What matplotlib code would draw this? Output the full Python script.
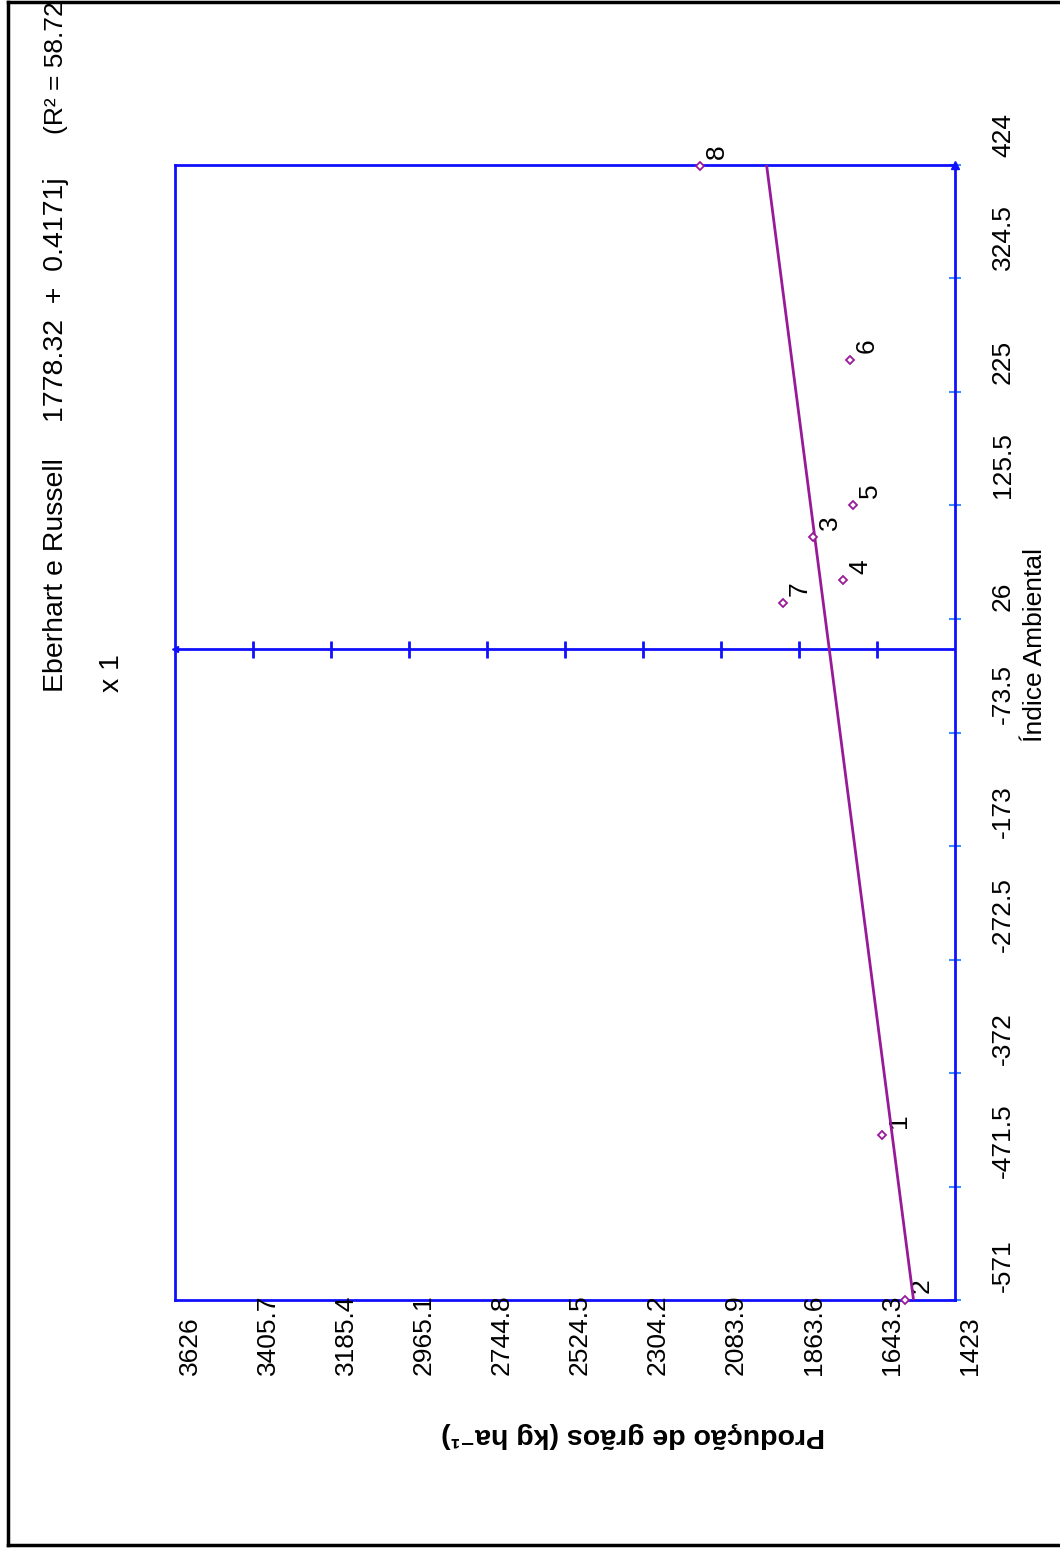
import matplotlib.pyplot as plt
import numpy as np

plt.rcParams['font.family'] = ['Liberation Sans', 'DejaVu Sans']
plt.rcParams['font.size'] = 19

# dados (genotipo, producao, indice ambiental)
genotipos = ['1', '2', '3', '4', '5', '6', '7', '8']
producao = [1629, 1564, 1824, 1739, 1711, 1720, 1909, 2143]
indice = [-426, -571, 98, 60, 126, 253, 40, 423]
b0, b1 = 1778.32, 0.4171

prod_ticks = [3626, 3405.7, 3185.4, 2965.1, 2744.8, 2524.5, 2304.2, 2083.9, 1863.6, 1643.3, 1423]
idx_ticks = [-571, -471.5, -372, -272.5, -173, -73.5, 26, 125.5, 225, 324.5, 424]

FrameBlue = '#1010ff'
TickBlue = '#3a8cff'
Purple = '#991a99'
px = 0.72  # pontos por pixel (dpi 100)

fig = plt.figure(figsize=(10.6, 15.49), dpi=100)
W, H = 1060, 1549
ax = fig.add_axes([175 / W, 1 - 1300 / H, 780 / W, 1135 / H])
ax.set_xlim(prod_ticks[0], prod_ticks[-1])
ax.set_ylim(idx_ticks[0], idx_ticks[-1])

for s in ax.spines.values():
    s.set_color(FrameBlue)
    s.set_linewidth(2)

# eixo em j = 0
ax.axhline(0, color=FrameBlue, lw=2, zorder=2)
ax.plot(prod_ticks[1:-1], np.zeros(len(prod_ticks) - 2), ls='none', marker='|',
        ms=17 * px, mew=2, color=FrameBlue, zorder=3)
ax.plot([prod_ticks[0]], [0], ls='none', marker='<', ms=5, color=FrameBlue, clip_on=False)
ax.plot([prod_ticks[-1]], [idx_ticks[-1]], ls='none', marker='^', ms=6, color=FrameBlue, clip_on=False)

# ticks do eixo do indice (lado direito)
ax.set_xticks([])
ax.yaxis.tick_right()
ax.set_yticks(idx_ticks)
ax.set_yticklabels([])
ax.tick_params(axis='y', direction='inout', length=12 * px, width=1.5, color=TickBlue)

for t in prod_ticks:
    ax.annotate(f'{t:g}', xy=(t, 0), xycoords=ax.get_xaxis_transform(),
                xytext=(15 * px, -75 * px), textcoords='offset points',
                rotation=90, ha='center', va='bottom', annotation_clip=False)
for t in idx_ticks:
    ax.annotate(f'{t:g}', xy=(1, t), xycoords=ax.get_yaxis_transform(),
                xytext=(48 * px, 8 * px), textcoords='offset points',
                rotation=90, ha='center', va='bottom', annotation_clip=False)

# reta de regressao
jj = np.array([idx_ticks[0], idx_ticks[-1]])
ax.plot(b0 + b1 * jj, jj, color=Purple, lw=2, zorder=4)

# pontos
ax.plot(producao, indice, ls='none', marker='D', ms=4, mfc='white', mec=Purple,
        mew=1.3, zorder=5, clip_on=False)
for g, x, y in zip(genotipos, producao, indice):
    ax.annotate(g, xy=(x, y), xytext=(17 * px, 14 * px), textcoords='offset points',
                rotation=90, ha='center', va='center', annotation_clip=False)

# textos
fig.text(1035 / W, 1 - 645 / H, 'Índice Ambiental', rotation=90, ha='center', va='center')
fig.text(633 / W, 1 - 1435 / H, 'Produção de grãos (kg ha⁻¹)', rotation=180,
         ha='center', va='center', fontweight='bold', fontsize=20.5)
fig.text(56 / W, 1 - 692 / H, 'Eberhart e Russell', rotation=90, ha='center', va='bottom', fontsize=20.5)
fig.text(56 / W, 1 - 422 / H, '1778.32  +  0.4171j', rotation=90, ha='center', va='bottom', fontsize=20.5)
fig.text(56 / W, 1 - 134 / H, '(R² = 58.72', rotation=90, ha='center', va='bottom', fontsize=19)
fig.text(112 / W, 1 - 692 / H, 'x 1', rotation=90, ha='center', va='bottom', fontsize=20.5)

# moldura externa
fig.add_artist(plt.Line2D([8 / W, 8 / W], [1 - 2 / H, 1 - 1545 / H], color='black', lw=2.5))
fig.add_artist(plt.Line2D([8 / W, 1], [1 - 1545 / H, 1 - 1545 / H], color='black', lw=2.5))
fig.add_artist(plt.Line2D([8 / W, 1], [1 - 2 / H, 1 - 2 / H], color='black', lw=2.5))

fig.savefig('out.png', dpi=100)
